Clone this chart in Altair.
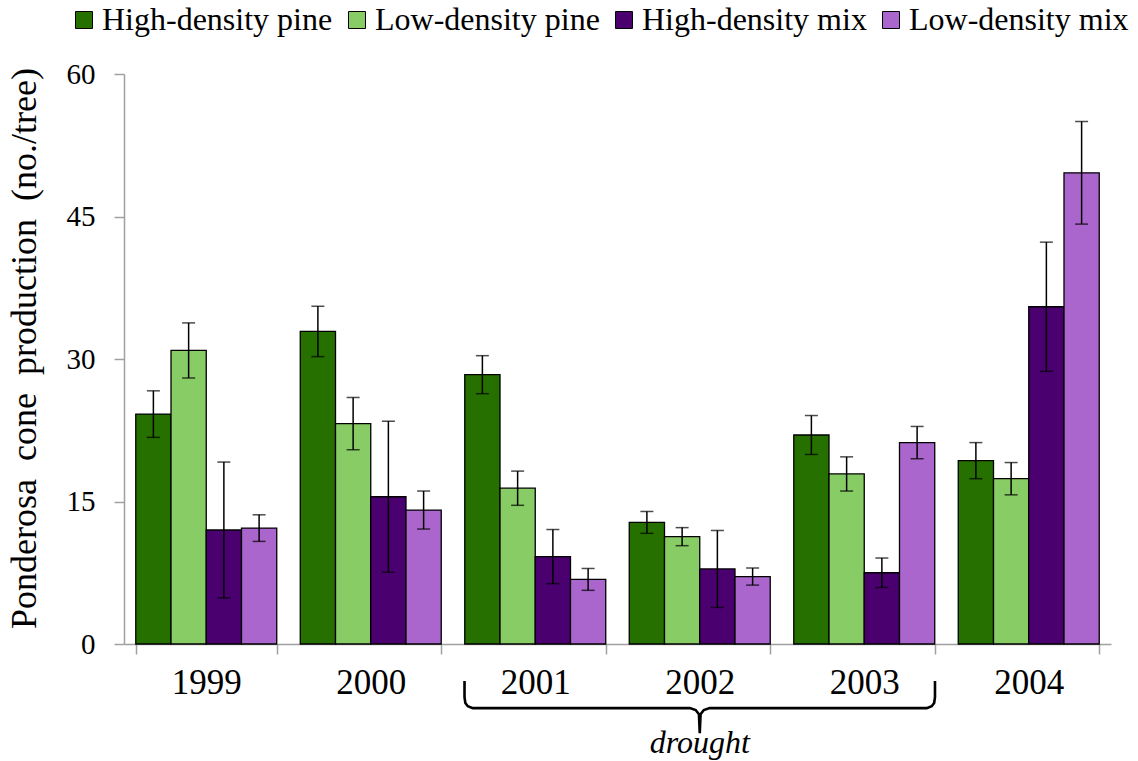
import altair as alt
import pandas as pd

years = ["1999", "2000", "2001", "2002", "2003", "2004"]
series = ["High-density pine", "Low-density pine", "High-density mix", "Low-density mix"]
colors = ["#267000", "#88CC66", "#4B0070", "#AA66CC"]

hd_pine = [24.2, 32.9, 28.35, 12.8, 22.0, 19.3]
ld_pine = [30.9, 23.2, 16.4, 11.3, 17.9, 17.4]
hd_mix = [12.0, 15.5, 9.2, 7.9, 7.5, 35.5]
ld_mix = [12.2, 14.1, 6.8, 7.1, 21.2, 49.6]

hd_pine_err = [2.45, 2.65, 2.0, 1.15, 2.05, 1.9]
ld_pine_err = [2.9, 2.75, 1.8, 0.95, 1.8, 1.7]
hd_mix_err = [7.15, 7.95, 2.85, 4.05, 1.55, 6.8]
ld_mix_err = [1.4, 2.0, 1.15, 0.9, 1.7, 5.4]

# drought brace (x in year-slot units spanning 2001-2003, y in axis units below zero)
brace_x = [2.07, 2.07, 2.075, 2.09, 2.12, 3.44, 3.475, 3.495, 3.50, 3.505, 3.525, 3.56,
           4.88, 4.91, 4.925, 4.93, 4.93]
brace_y = [-3.9, -5.6, -6.2, -6.55, -6.75, -6.75, -6.95, -7.4, -9.4, -7.4, -6.95, -6.75,
           -6.75, -6.55, -6.2, -5.6, -3.9]
drought_label = "drought"
drought_x = [3.5]
drought_y = [-11.5]

y_title = "Ponderosa\u00a0 cone\u00a0 production\u00a0 (no./tree)"

rows = []
for s, m, e in zip(series, [hd_pine, ld_pine, hd_mix, ld_mix],
                   [hd_pine_err, ld_pine_err, hd_mix_err, ld_mix_err]):
    for y, mv, ev in zip(years, m, e):
        rows.append({"year": y, "series": s, "mean": mv, "lo": mv - ev, "hi": mv + ev})
df = pd.DataFrame(rows)

brace_df = pd.DataFrame({"bx": brace_x, "by": brace_y, "order": list(range(len(brace_x)))})
text_df = pd.DataFrame({"bx": drought_x, "by": drought_y, "label": [drought_label]})

FONT = "Liberation Serif"
W, H = 987, 570

yscale = alt.Scale(domain=[0, 60], nice=False)

x_enc = alt.X(
    "year:N",
    sort=years,
    scale=alt.Scale(paddingInner=0.143, paddingOuter=0.0715),
    axis=alt.Axis(
        title=None, labelAngle=0, tickBand="extent", labelFont=FONT, labelFontSize=35,
        labelColor="black", domainColor="#a0a0a0", domainWidth=1.5, tickColor="#a0a0a0",
        tickWidth=1.5, tickSize=10, labelPadding=11, labelBaseline="top",
    ),
)
xoff = alt.XOffset("series:N", sort=series, scale=alt.Scale(paddingInner=0, paddingOuter=0))

bars = alt.Chart(df).mark_bar(stroke="black", strokeWidth=1.3).encode(
    x=x_enc,
    xOffset=xoff,
    y=alt.Y(
        "mean:Q",
        scale=yscale,
        axis=alt.Axis(
            title=y_title, values=[0, 15, 30, 45, 60],
            grid=False, labelFont=FONT, labelFontSize=29, labelColor="black",
            labelPadding=19, tickSize=10, tickColor="#a0a0a0", tickWidth=1.5,
            domainColor="#a0a0a0", domainWidth=1.5,
            titleFont=FONT, titleFontSize=36, titleFontWeight="normal", titleColor="black",
            titleX=-117, titleY=274, titleAngle=-90, titleAlign="center", titleBaseline="top",
        ),
    ),
    color=alt.Color(
        "series:N",
        sort=series,
        scale=alt.Scale(domain=series, range=colors),
        legend=alt.Legend(
            title=None, orient="none", legendX=-56, legendY=-70, direction="horizontal",
            columns=4, symbolType="square", symbolSize=289, symbolStrokeColor="black",
            symbolStrokeWidth=1, labelFont=FONT, labelFontSize=32, labelColor="black",
            labelOffset=2, columnPadding=8, padding=0, labelLimit=400, gridAlign="each",
        ),
    ),
)

err_rules = alt.Chart(df).mark_rule(color="black", strokeWidth=1.5).encode(
    x=alt.X("year:N", sort=years),
    xOffset=alt.XOffset("series:N", sort=series),
    y=alt.Y("lo:Q", scale=yscale),
    y2="hi:Q",
)
cap_lo = alt.Chart(df).mark_tick(color="black", size=13, thickness=1.5).encode(
    x=alt.X("year:N", sort=years),
    xOffset=alt.XOffset("series:N", sort=series),
    y=alt.Y("lo:Q", scale=yscale),
)
cap_hi = alt.Chart(df).mark_tick(color="black", size=13, thickness=1.5).encode(
    x=alt.X("year:N", sort=years),
    xOffset=alt.XOffset("series:N", sort=series),
    y=alt.Y("hi:Q", scale=yscale),
)

main = alt.layer(bars, err_rules, cap_lo, cap_hi)

bscale = alt.Scale(domain=[0, 6], nice=False, zero=False)
brace = alt.Chart(brace_df).mark_line(color="black", strokeWidth=2.6).encode(
    x=alt.X("bx:Q", scale=bscale, axis=None),
    y=alt.Y("by:Q", scale=yscale),
    order="order:Q",
)
drought = alt.Chart(text_df).mark_text(
    font=FONT, fontSize=32, fontStyle="italic", color="black", baseline="alphabetic", align="center"
).encode(
    x=alt.X("bx:Q", scale=bscale, axis=None),
    y=alt.Y("by:Q", scale=yscale),
    text="label:N",
)
annot = alt.layer(brace, drought)

chart = alt.layer(main, annot).resolve_scale(
    x="independent"
).properties(
    width=W, height=H,
    autosize=alt.AutoSizeParams(type="none"),
    padding={"left": 124, "top": 74, "right": 27, "bottom": 117},
    background="white",
).configure_view(stroke="transparent")

chart.save("out.html", embed_options={"renderer": "svg", "actions": False})
